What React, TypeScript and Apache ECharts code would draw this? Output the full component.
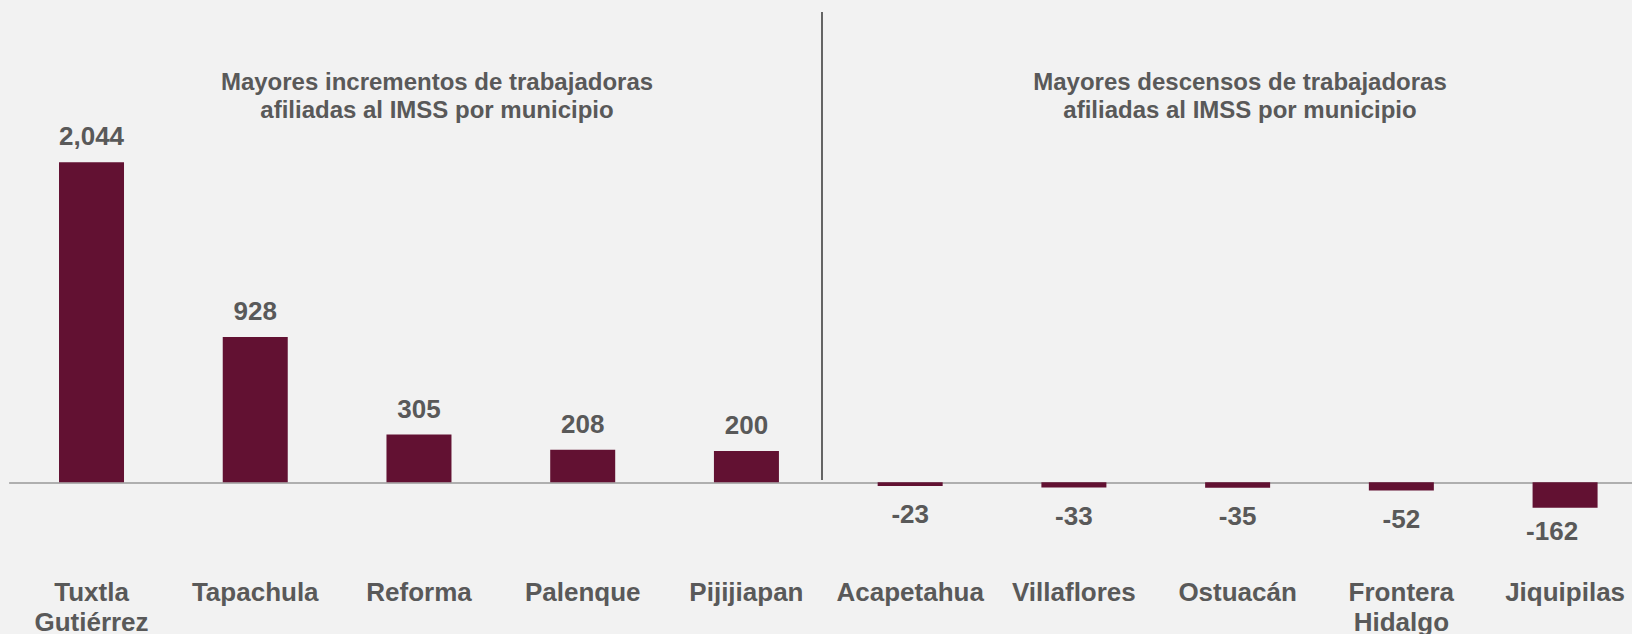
import React, { useEffect, useRef } from "react";
import * as echarts from "echarts";

const categories = [
  "Tuxtla\nGutiérrez",
  "Tapachula",
  "Reforma",
  "Palenque",
  "Pijijiapan",
  "Acapetahua",
  "Villaflores",
  "Ostuacán",
  "Frontera\nHidalgo",
  "Jiquipilas",
];
const values = [2044, 928, 305, 208, 200, -23, -33, -35, -52, -162];
const titleLeft = "Mayores incrementos de trabajadoras\nafiliadas al IMSS por municipio";
const titleRight = "Mayores descensos de trabajadoras\nafiliadas al IMSS por municipio";

const FONT = "'Liberation Sans', Arial, Helvetica, sans-serif";
const TEXT = "#595959";
const BAR = "#621132";

export default function App() {
  const ref = useRef<HTMLDivElement>(null);
  useEffect(() => {
    if (!ref.current) return;
    const chart = echarts.init(ref.current, undefined, { renderer: "svg" });
    const data = values.map((v, i) => {
      const item: any = { value: v };
      if (v < 0) {
        item.label = {
          position: "bottom",
          distance: 15,
          offset: i === values.length - 1 ? [-13, -5] : [0, 0],
        };
      }
      return item;
    });
    chart.setOption({
      animation: false,
      backgroundColor: "#f2f2f2",
      textStyle: { fontFamily: FONT },
      grid: {
        left: 9.65,
        width: 1637.3,
        top: 106.6,
        height: 438.4,
        containLabel: false,
        outerBoundsMode: "none",
      },
      xAxis: {
        type: "category",
        data: categories,
        axisLine: { show: true, onZero: true, lineStyle: { color: "#999999", width: 1.6 } },
        axisTick: { show: false },
        axisLabel: {
          interval: 0,
          margin: 32,
          color: TEXT,
          fontSize: 26,
          fontWeight: "bold",
          fontFamily: FONT,
          lineHeight: 30,
        },
      },
      yAxis: {
        type: "value",
        min: -400,
        max: 2400,
        show: false,
        splitLine: { show: false },
      },
      series: [
        {
          type: "bar",
          data,
          barWidth: 65,
          itemStyle: { color: BAR },
          label: {
            show: true,
            position: "top",
            distance: 13,
            color: TEXT,
            fontSize: 26,
            fontWeight: "bold",
            fontFamily: FONT,
            formatter: (p: any) => Number(p.value).toLocaleString("en-US"),
          },
        },
      ],
      graphic: [
        {
          type: "line",
          shape: { x1: 822, y1: 12, x2: 822, y2: 480 },
          style: { stroke: "#404040", lineWidth: 1.6 },
        },
        {
          type: "text",
          x: 437,
          y: 67,
          style: {
            text: titleLeft,
            fill: TEXT,
            font: `bold 24px ${FONT}`,
            textAlign: "center",
            textVerticalAlign: "top",
            lineHeight: 28.5,
          },
        },
        {
          type: "text",
          x: 1240,
          y: 67,
          style: {
            text: titleRight,
            fill: TEXT,
            font: `bold 24px ${FONT}`,
            textAlign: "center",
            textVerticalAlign: "top",
            lineHeight: 28.5,
          },
        },
      ],
    });
    return () => chart.dispose();
  }, []);
  return (
    <div
      ref={ref}
      style={{ position: "absolute", left: 0, top: 0, width: 1632, height: 634 }}
    />
  );
}
